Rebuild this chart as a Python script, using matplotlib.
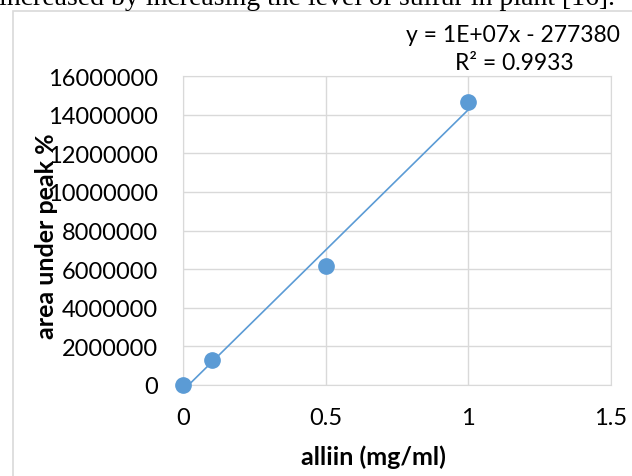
import numpy as np
import matplotlib.pyplot as plt
from matplotlib.patches import Rectangle

# calibration data
alliin = [0, 0.1, 0.5, 1.0]
area = [0, 1310000, 6170000, 14650000]
x_ticks = [0, 0.5, 1, 1.5]
y_ticks = list(range(0, 16000001, 2000000))

blue = "#5B9BD5"
grid = "#D9D9D9"

plt.rcParams['font.family'] = ['Lato', 'DejaVu Sans']

fig = plt.figure(figsize=(6.32, 4.77), dpi=100)

# chart frame (Excel style border)
fig.patches.append(Rectangle((13 / 632, -0.1), 1.0, (477 - 12) / 477 + 0.1,
                             transform=fig.transFigure, fill=False,
                             edgecolor=grid, linewidth=1.2))

# cut-off sentence from the document above
fig.text(-0.002, 1 - 5 / 477, "increased by increasing the level of sulfur in plant [16].",
         family="Liberation Serif", fontsize=20, ha="left", va="baseline")

ax = fig.add_axes([183 / 632, 1 - 386 / 477, (611 - 183) / 632, (386 - 77) / 477])

slope, intercept = np.polyfit(alliin, area, 1)
xs = np.array([min(alliin), max(alliin)])
ax.plot(xs, slope * xs + intercept, color=blue, linewidth=1.2, zorder=3)
ax.plot(alliin, area, "o", color=blue, markersize=11, zorder=4, clip_on=False)

ax.set_xlim(0, 1.5)
ax.set_ylim(0, 16000000)
ax.set_xticks(x_ticks)
ax.set_xticklabels(["0", "0.5", "1", "1.5"])
ax.set_yticks(y_ticks)
ax.set_yticklabels([str(v) for v in y_ticks])
ax.grid(True, color=grid, linewidth=1)
ax.set_axisbelow(True)
for s in ax.spines.values():
    s.set_color(grid)
ax.tick_params(length=0, labelsize=17)
ax.tick_params(axis="y", pad=18)
ax.tick_params(axis="x", pad=16)

ax.set_xlabel("alliin (mg/ml)", fontsize=18, fontweight="bold")
ax.xaxis.set_label_coords((373 - 183) / (611 - 183), -(457 - 386) / (386 - 77))
ax.xaxis.label.set_va("center")
ax.set_ylabel("area under peak %", fontsize=18, fontweight="bold")
ax.yaxis.set_label_coords(-(183 - 47) / (611 - 183), (386 - 236) / (386 - 77))
ax.yaxis.label.set_va("center")

fig.text(513 / 632, 1 - 36 / 477, "y = 1E+07x - 277380", fontsize=16.5,
         ha="center", va="center")
fig.text(514 / 632, 1 - 64 / 477, "R² = 0.9933", fontsize=16.5,
         ha="center", va="center")

fig.savefig("out.png", dpi=100)
